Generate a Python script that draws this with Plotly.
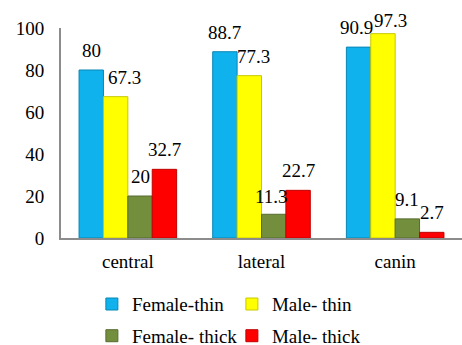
import plotly.graph_objects as go

categories = ["central", "lateral", "canin"]
series_names = ["Female-thin", "Male- thin", "Female- thick", "Male- thick"]
female_thin = [80, 88.7, 90.9]
male_thin = [67.3, 77.3, 97.3]
female_thick = [20, 11.3, 9.1]
male_thick = [32.7, 22.7, 2.7]
y_ticks = [0, 20, 40, 60, 80, 100]

series_values = [female_thin, male_thin, female_thick, male_thick]
fills = ["#0FB2EC", "#FFFF00", "#738F3E", "#FF0000"]
edges = ["#0A86B5", "#C8C800", "#566B2E", "#C00000"]
legend_ids = ["legend", "legend", "legend2", "legend2"]

FONT = "Liberation Serif, Times New Roman, serif"
FS = 19

fig = go.Figure()
for name, vals, fc, ec, lg in zip(series_names, series_values, fills, edges, legend_ids):
    fig.add_trace(go.Bar(
        x=categories, y=vals, name=name, legend=lg,
        marker=dict(color=fc, line=dict(color=ec, width=1)),
    ))

# data labels: small per-label nudges (px) to mimic the original placement
nudge = {(1, 0): (9, 0), (1, 1): (4, 0), (1, 2): (8, -6), (0, 2): (-2, 0), (2, 1): (-2, -2)}
bargap = 0.27
cat_px = 402 / 3
bar_px = cat_px * (1 - bargap) / 4
for si, vals in enumerate(series_values):
    for ci, v in enumerate(vals):
        dx, dy = nudge.get((si, ci), (0, 0))
        fig.add_annotation(
            x=categories[ci], y=v, text=f"{v:g}", showarrow=False,
            xref="x", yref="y", yanchor="bottom", xanchor="center",
            xshift=(si - 1.5) * bar_px + dx, yshift=7 + dy,
            font=dict(family=FONT, size=FS, color="black"),
        )

fig.update_layout(
    width=462, height=345,
    margin=dict(l=61, r=0, t=28, b=107, autoexpand=False),
    paper_bgcolor="white", plot_bgcolor="white",
    barmode="group", bargap=bargap, bargroupgap=0,
    font=dict(family=FONT, size=FS, color="black"),
    legend=dict(orientation="h", x=0.077, xanchor="left", y=-0.315, yanchor="middle",
                entrywidth=95, font=dict(family=FONT, size=FS), bgcolor="rgba(0,0,0,0)"),
    legend2=dict(orientation="h", x=0.077, xanchor="left", y=-0.466, yanchor="middle",
                 entrywidth=95, font=dict(family=FONT, size=FS), bgcolor="rgba(0,0,0,0)"),
    showlegend=True,
)
fig.update_xaxes(showline=True, linecolor="#8C8C8C", linewidth=2, ticks="", automargin=False,
                 showgrid=False, tickfont=dict(family=FONT, size=FS), ticklabelstandoff=5)
fig.update_yaxes(range=[0, 100], tickvals=y_ticks, showline=True, linecolor="#8C8C8C",
                 linewidth=2, ticks="", showgrid=False, zeroline=False, automargin=False,
                 tickfont=dict(family=FONT, size=FS), ticklabelstandoff=11)

fig.write_html("out.html", config={"displayModeBar": False},
               post_script="document.body.style.margin='0';document.body.style.overflow='hidden';")
